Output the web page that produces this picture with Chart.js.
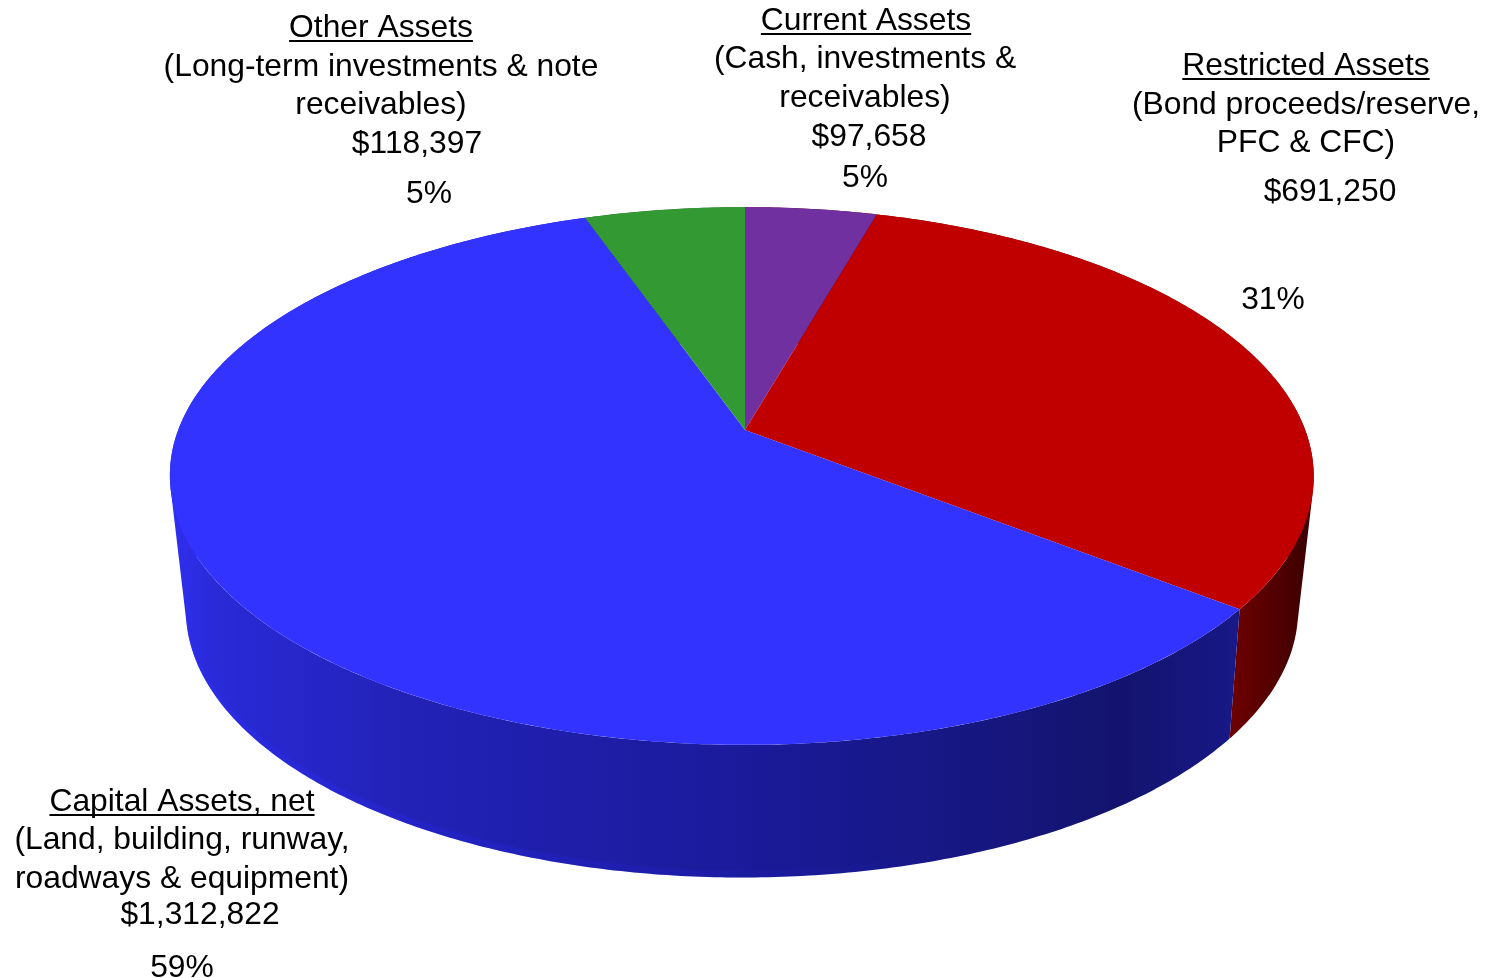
<!DOCTYPE html>
<html>
<head>
<meta charset="utf-8">
<title>Total Assets</title>
<script src="https://cdn.jsdelivr.net/npm/chart.js@4"></script>
<style>
  html, body { margin: 0; padding: 0; background: #fff; overflow: hidden; }
  canvas { display: block; }
</style>
</head>
<body>
<canvas id="grafico" width="1499" height="978"></canvas>
<script>
// clockwise from 12 o'clock
const categories = ['Current Assets', 'Restricted Assets', 'Capital Assets, net', 'Other Assets']
const descriptions = [
    ['(Cash, investments &', 'receivables)'],
    ['(Bond proceeds/reserve,', 'PFC & CFC)'],
    ['(Land, building, runway,', 'roadways & equipment)'],
    ['(Long-term investments & note', 'receivables)']
]
const amounts = [97658, 691250, 1312822, 118397]
const percents = [5, 31, 59, 5]

const cores = ['#7030A0', '#C00000', '#3333FF', '#339933']

// wall shading, left to right across the pie
const wallStops = [
    [
        [170, '#5a0a20'], [1230, '#740000'], [1300, '#420000']
    ],
    [
        [170, '#6e0000'], [1230, '#6e0000'], [1262, '#5a0000'], [1310, '#3c0000']
    ],
    [
        [170, '#2f2ff0'], [215, '#2a2ad8'], [400, '#2222b8'], [750, '#1a1a9a'],
        [1000, '#16167e'], [1120, '#13136e'], [1240, '#181888']
    ],
    [
        [170, '#2f7f2f'], [1300, '#1c5a1c']
    ]
]

// brighter lip along the lower edge of the blue wall
const lipStops = [
    [170, 'rgba(46,46,245,0.45)'], [500, 'rgba(38,38,225,0.28)'], [800, 'rgba(34,34,200,0.12)'], [1000, 'rgba(30,30,170,0)']
]

// x,y of the label lines: [title, desc 1, desc 2, amount, percent], each {x: center, y: baseline}
const labelPos = [
    [[866, 30], [865, 68], [865, 107], [869, 146], [865, 187]],
    [[1306, 75], [1306, 114], [1306, 152], [1330, 201], [1273, 309]],
    [[182, 811], [182, 849], [182, 888], [200, 924], [182, 977]],
    [[381, 37], [381, 76], [381, 114], [417, 153], [429, 203]]
]

// perspective of the top and bottom faces of the disc
const topFace = { cx: 745, cy: 430, a: 563.5, b: 261, k: -0.171, lean: -3.3 }
const bottomFace = { cx: 742, cy: 559, a: 546, b: 258, k: -0.19, lean: 0 }
const lipFace = { ...bottomFace, cy: bottomFace.cy - 7 }

const project = (face, angle) => {
    const u = Math.cos(angle)
    const v = Math.sin(angle)
    const w = 1 + face.k * v
    return [face.cx + face.a * u / w + face.lean * u * u, face.cy + face.b * v / w]
}

const traceRim = (ctx, face, start, end) => {
    const n = Math.max(2, Math.ceil(Math.abs(end - start) / 0.01))
    for (let i = 0; i <= n; i++) {
        const p = project(face, start + (end - start) * i / n)
        ctx.lineTo(p[0], p[1])
    }
}

const xGradient = (ctx, stops) => {
    const x0 = 170
    const x1 = 1314
    const g = ctx.createLinearGradient(x0, 0, x1, 0)
    stops.forEach(([x, c]) => g.addColorStop((x - x0) / (x1 - x0), c))
    return g
}

const signedArea = (p) => p.reduce((soma, q, i) => {
    const r = p[(i + 1) % p.length]
    return soma + q[0] * r[1] - r[0] * q[1]
}, 0)

// one path of same-wound quads, so the side silhouette between both faces is covered without seams
const fillBand = (ctx, upper, lower, start, end) => {
    const passo = 0.01
    ctx.beginPath()
    for (let a = start; a < end; a += passo) {
        const fim = Math.min(end, a + passo)
        const p = [project(upper, a), project(upper, fim), project(lower, fim), project(lower, a)]
        if (signedArea(p) < 0) p.reverse()
        ctx.moveTo(p[0][0], p[0][1])
        ctx.lineTo(p[1][0], p[1][1])
        ctx.lineTo(p[2][0], p[2][1])
        ctx.lineTo(p[3][0], p[3][1])
        ctx.closePath()
    }
    ctx.fill()
}

// replaces the flat arc drawing, using the angles the pie controller computed
const pie3d = {
    id: 'pie3d',
    beforeDatasetDraw(chart) {
        const ctx = chart.ctx
        const arcs = chart.getDatasetMeta(0).data

        ctx.save()
        arcs.forEach((arc, i) => {
            const { startAngle, endAngle } = arc.getProps(['startAngle', 'endAngle'], true)
            ctx.fillStyle = xGradient(ctx, wallStops[i])
            fillBand(ctx, topFace, bottomFace, startAngle, endAngle)
        })

        // only the front of the blue slice shows its lip
        const azul = arcs[2].getProps(['startAngle', 'endAngle'], true)
        ctx.beginPath()
        traceRim(ctx, lipFace, azul.startAngle, Math.PI)
        traceRim(ctx, bottomFace, Math.PI, azul.startAngle)
        ctx.closePath()
        ctx.fillStyle = xGradient(ctx, lipStops)
        ctx.fill()

        arcs.forEach((arc, i) => {
            const { startAngle, endAngle } = arc.getProps(['startAngle', 'endAngle'], true)
            ctx.beginPath()
            ctx.moveTo(topFace.cx, topFace.cy)
            traceRim(ctx, topFace, startAngle, endAngle)
            ctx.closePath()
            ctx.fillStyle = cores[i]
            ctx.fill()
        })
        ctx.restore()
        return false
    },
    afterDraw(chart) {
        const ctx = chart.ctx
        ctx.save()
        ctx.font = "31.8px 'Liberation Sans', Arial, sans-serif"
        ctx.fillStyle = '#000'
        ctx.textAlign = 'center'
        ctx.textBaseline = 'alphabetic'
        categories.forEach((nome, i) => {
            const linhas = [
                nome,
                descriptions[i][0],
                descriptions[i][1],
                '$' + amounts[i].toLocaleString('en-US'),
                percents[i] + '%'
            ]
            linhas.forEach((texto, j) => {
                ctx.fillText(texto, labelPos[i][j][0], labelPos[i][j][1])
            })
            // title underline
            const w = ctx.measureText(nome).width
            const [x, y] = labelPos[i][0]
            ctx.fillRect(x - w / 2, y + 3, w, 2)
        })
        ctx.restore()
    }
}

new Chart(document.getElementById('grafico'), {
    type: 'pie',
    data: {
        labels: categories,
        datasets: [{
            data: amounts,
            backgroundColor: cores,
            borderWidth: 0
        }]
    },
    options: {
        responsive: false,
        animation: false,
        plugins: {
            legend: { display: false },
            tooltip: { enabled: false }
        }
    },
    plugins: [pie3d]
})
</script>
</body>
</html>
